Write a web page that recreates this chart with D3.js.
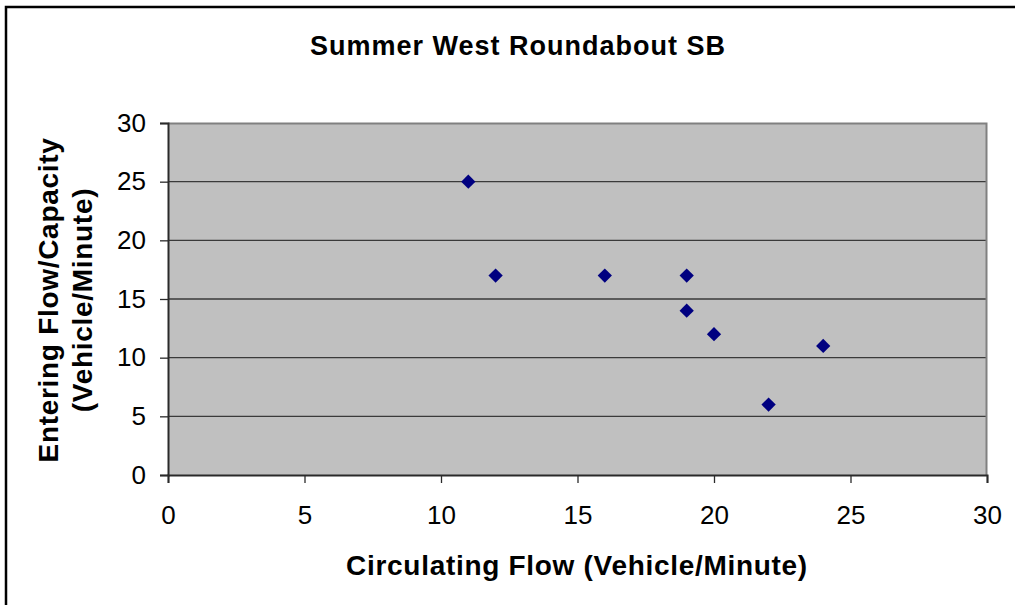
<!DOCTYPE html>
<html>
<head>
<meta charset="utf-8">
<script src="https://cdn.jsdelivr.net/npm/d3@7"></script>
<style>
  body { margin: 0; background: #fff; }
  text { font-family: "Liberation Sans", Arial, sans-serif; }
</style>
</head>
<body>
<svg id="chart"></svg>
<script>
// data
const circulating = [11, 12, 16, 19, 19, 20, 24, 22]
const entering = [25, 17, 17, 17, 14, 12, 11, 6]
const xTicks = [0, 5, 10, 15, 20, 25, 30]
const yTicks = [0, 5, 10, 15, 20, 25, 30]

const points = circulating.map((c, i) => ({ x: c, y: entering[i] }))

const W = 1015, H = 605
const margin = { top: 123, right: 28, bottom: 130, left: 168 }
const width = W - margin.left - margin.right
const height = H - margin.top - margin.bottom

const svg = d3.select("#chart")
    .attr("width", W)
    .attr("height", H)

// outer chart frame (right and bottom edges run off the picture)
svg.append("rect")
    .attr("x", 6).attr("y", 7)
    .attr("width", W + 20).attr("height", H + 20)
    .attr("fill", "#fff")
    .attr("stroke", "#000")
    .attr("stroke-width", 2.5)

const x = d3.scaleLinear().domain([0, 30]).range([0, width])
const y = d3.scaleLinear().domain([0, 30]).range([height, 0])

const g = svg.append("g")
    .attr("transform", `translate(${margin.left},${margin.top})`)

// plot background
g.append("rect")
    .attr("width", width).attr("height", height)
    .attr("fill", "#c0c0c0")

// gridlines
g.append("g")
    .selectAll("line")
    .data(yTicks.filter(d => d > 0 && d < 30))
    .enter().append("line")
    .attr("x1", 0).attr("x2", width)
    .attr("y1", d => y(d)).attr("y2", d => y(d))
    .attr("stroke", "#3a3a3a")
    .attr("stroke-width", 1.3)

// top and right border of plot area
g.append("path")
    .attr("d", `M0,0.5H${width - 0.5}V${height}`)
    .attr("fill", "none")
    .attr("stroke", "#808080")
    .attr("stroke-width", 2)

// axes
const xAxis = g.append("g")
    .attr("transform", `translate(0,${height})`)
    .call(d3.axisBottom(x).tickValues(xTicks).tickSize(8).tickPadding(23))
const yAxis = g.append("g")
    .call(d3.axisLeft(y).tickValues(yTicks).tickSize(8).tickPadding(14))

;[xAxis, yAxis].forEach(a => {
    a.attr("font-size", null)
    a.select(".domain").attr("stroke", "#2a2a2a").attr("stroke-width", 2)
    a.selectAll(".tick line").attr("stroke", "#2a2a2a").attr("stroke-width", 1.3)
    a.selectAll(".tick text")
        .attr("fill", "#000")
        .style("font-size", "26px")
        .style("font-family", "'Liberation Sans', Arial, sans-serif")
})

// markers
g.append("g")
    .selectAll("path")
    .data(points)
    .enter().append("path")
    .attr("d", d3.symbol().type(d3.symbolDiamond2).size(130))
    .attr("transform", d => `translate(${x(d.x)},${y(d.y)})`)
    .attr("fill", "#000080")

// title
svg.append("text")
    .attr("x", 518).attr("y", 55)
    .attr("text-anchor", "middle")
    .style("font-size", "27px")
    .style("font-weight", "bold")
    .style("letter-spacing", "1px")
    .text("Summer West Roundabout SB")

// x axis title
svg.append("text")
    .attr("x", 577).attr("y", 575)
    .attr("text-anchor", "middle")
    .style("font-size", "28px")
    .style("font-weight", "bold")
    .style("letter-spacing", "0.7px")
    .text("Circulating Flow (Vehicle/Minute)")

// y axis title, two lines
const yTitle = svg.append("text")
    .attr("transform", "translate(58,300) rotate(-90)")
    .attr("text-anchor", "middle")
    .style("font-size", "28px")
    .style("font-weight", "bold")
    .style("letter-spacing", "0.7px")
yTitle.append("tspan").attr("x", 0).attr("y", 0).text("Entering Flow/Capacity")
yTitle.append("tspan").attr("x", 0).attr("y", 34).text("(Vehicle/Minute)")
</script>
</body>
</html>
